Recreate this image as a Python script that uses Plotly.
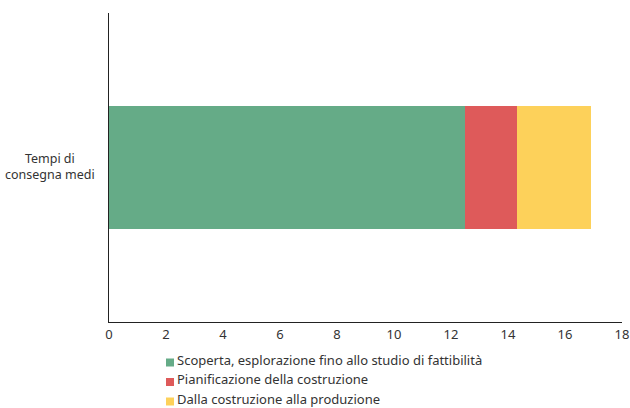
import plotly.graph_objects as go

categories = ["Tempi di consegna medi"]
category_label = "Tempi di<br>consegna medi"
series_names = [
    "Scoperta, esplorazione fino allo studio di fattibilità",
    "Pianificazione della costruzione",
    "Dalla costruzione alla produzione",
]
series_values = [[12.5], [1.8], [2.6]]
colors = ["#65AB87", "#DE5A5A", "#FDD15A"]
x_ticks = [0, 2, 4, 6, 8, 10, 12, 14, 16, 18]

W, H = 630, 408
M_L, M_R, M_T, M_B = 109, 8, 13, 86
PW, PH = W - M_L - M_R, H - M_T - M_B


def px_x(px):
    # pixel column -> paper x
    return (px - M_L) / PW


def px_y(py):
    # pixel row -> paper y
    return (H - M_B - py) / PH


fig = go.Figure()
for name, vals, col in zip(series_names, series_values, colors):
    fig.add_trace(go.Bar(
        y=categories, x=vals, name=name, orientation="h",
        marker=dict(color=col, line=dict(width=0)), width=0.4,
        showlegend=False,
    ))

font = dict(family="Noto Sans, Open Sans, sans-serif", size=13, color="#333333")

# centred two-line category label to the left of the axis
fig.add_annotation(
    text=category_label, xref="paper", yref="y", x=0, y=categories[0],
    xanchor="right", yanchor="middle", xshift=-12, yshift=1, align="center",
    showarrow=False, font=dict(family=font["family"], size=12.5, color=font["color"]),
)

# legend: colour square + series name, stacked below the axis
row_y = [359.5, 379, 398.5]
for name, col, ry in zip(series_names, colors, row_y):
    fig.add_shape(
        type="rect", xref="paper", yref="paper",
        x0=px_x(166), x1=px_x(174), y0=px_y(ry + 7), y1=px_y(ry - 1),
        fillcolor=col, line=dict(width=0),
    )
    fig.add_annotation(
        text=name, xref="paper", yref="paper", x=px_x(176), y=px_y(ry),
        xanchor="left", yanchor="middle", showarrow=False, font=font,
        borderpad=0,
    )

fig.update_layout(
    barmode="stack",
    width=W, height=H,
    margin=dict(l=M_L, r=M_R, t=M_T, b=M_B),
    paper_bgcolor="white", plot_bgcolor="white",
    font=font,
    showlegend=False,
    xaxis=dict(
        range=[0, 18], tickvals=x_ticks, showgrid=False, zeroline=False,
        showline=True, linecolor="#222222", linewidth=1, ticks="",
        tickfont=font, fixedrange=True, automargin=False,
    ),
    yaxis=dict(
        range=[-0.5, 0.5], showgrid=False, zeroline=False,
        showline=True, linecolor="#222222", linewidth=1, ticks="",
        showticklabels=False, automargin=False,
    ),
)

fig.write_html("out.html")
